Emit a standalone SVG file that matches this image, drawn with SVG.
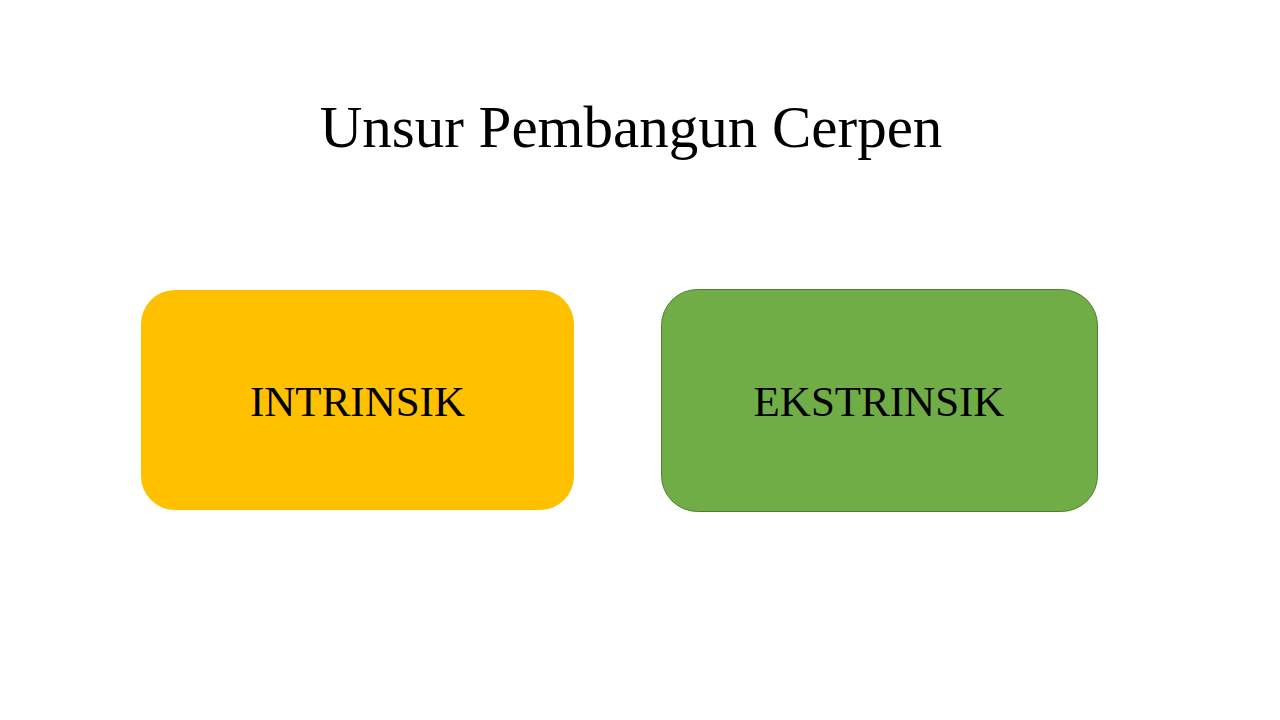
<svg xmlns="http://www.w3.org/2000/svg" width="1280" height="720" viewBox="0 0 1280 720">
<style>
text{font-family:"Liberation Serif","Times New Roman",serif;fill:#000;text-anchor:middle}
.title{font-size:59px}
.lbl{font-size:43px}
</style>
<rect width="1280" height="720" fill="#fff"/>
<g id="title"><text class="title" x="631" y="147">Unsur Pembangun Cerpen</text></g>
<g id="connectors"></g>
<g id="intrinsik">
<rect x="141" y="290" width="433" height="220" rx="34" ry="34" fill="#ffc000"/>
<text class="lbl" x="357.5" y="416">INTRINSIK</text>
</g>
<g id="ekstrinsik">
<rect x="661.5" y="289.5" width="436" height="222" rx="36" ry="36" fill="#70ad47" stroke="#507e32" stroke-width="1"/>
<text class="lbl" x="879" y="416">EKSTRINSIK</text>
</g>
</svg>
